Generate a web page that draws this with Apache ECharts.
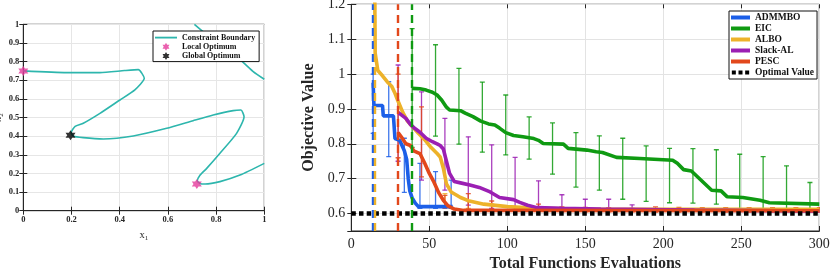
<!DOCTYPE html>
<html><head><meta charset="utf-8">
<script src="https://cdn.jsdelivr.net/npm/echarts@6.0.0/dist/echarts.min.js"></script>
<style>html,body{margin:0;padding:0;background:#fff}#c{width:838px;height:272px}</style>
</head><body><div id="c"></div>
<script>
// ---------- Left panel data ----------
const boundaryA = [[0,0.75],[0.18,0.741],[0.318,0.741],[0.42,0.752],[0.477,0.757],[0.502,0.710],[0.463,0.648],[0.401,0.594],[0.318,0.522],[0.249,0.469],[0.215,0.452],[0.199,0.42],[0.207,0.401],[0.249,0.392],[0.332,0.385],[0.456,0.401],[0.595,0.442],[0.705,0.483],[0.788,0.513],[0.871,0.537],[0.903,0.540],[0.916,0.504],[0.885,0.415],[0.816,0.308],[0.761,0.227],[0.733,0.190],[0.722,0.160],[0.735,0.145],[0.754,0.143],[0.816,0.156],[0.899,0.191],[1,0.254]];
const boundaryB = [[0.71,1.0],[0.788,0.916],[0.871,0.844],[0.954,0.746],[1,0.705]];
const localOpt = [[0,0.75],[0.72,0.143]];
const globalOpt = [[0.196,0.405]];

// ---------- Right panel data ----------
const admmbo = [[14,0.975],[14.5,0.91],[20,0.91],[20.5,0.88],[27,0.88],[28,0.815],[31,0.81],[32,0.80],[34,0.78],[35.5,0.755],[36.5,0.70],[37.5,0.665],[39,0.645],[41,0.63],[43,0.62],[65,0.62]];
const eic = [[39,0.959],[44,0.958],[48,0.954],[52,0.948],[55,0.94],[58,0.925],[61,0.905],[63,0.897],[70,0.895],[73,0.888],[78,0.878],[83,0.865],[88,0.857],[92,0.854],[95,0.845],[99,0.832],[104,0.824],[110,0.820],[117,0.815],[120,0.81],[123,0.801],[136,0.799],[139,0.787],[151,0.782],[157,0.777],[161,0.775],[170,0.761],[185,0.758],[206,0.753],[209,0.744],[213,0.726],[218,0.722],[231,0.667],[237,0.665],[241,0.648],[251,0.646],[262,0.638],[268,0.631],[300,0.627]];
const albo = [[15,1.25],[15.3,1.06],[17,1.01],[20,0.995],[23,0.978],[26,0.964],[28,0.945],[30,0.922],[33,0.89],[36,0.865],[39,0.85],[43,0.83],[47,0.812],[51,0.79],[55,0.772],[57,0.762],[59,0.73],[61,0.685],[64,0.662],[70,0.646],[75,0.637],[85,0.627],[100,0.62],[120,0.615],[150,0.613],[300,0.612]];
const slackAL = [[30,0.89],[35,0.873],[38,0.855],[41,0.843],[44,0.833],[48,0.816],[52,0.806],[55,0.800],[57,0.795],[59,0.785],[61,0.75],[63,0.715],[66,0.692],[70,0.688],[76,0.682],[82,0.675],[89,0.662],[95,0.646],[104,0.64],[108,0.632],[113,0.624],[119,0.617],[135,0.615],[160,0.613],[220,0.61],[300,0.607]];
const pesc = [[30,0.832],[32,0.82],[35,0.80],[38,0.795],[40,0.78],[44,0.772],[47,0.745],[50,0.715],[53,0.69],[56,0.66],[59,0.638],[62,0.622],[66,0.613],[72,0.609],[300,0.608]];
const optimalValue = [[0,0.6],[300,0.6]];
// error bars: [x, low, high]
const admmboErr = [[14,0.83,1.0],[24,0.763,0.978],[34,0.661,0.816],[44,0.615,0.744],[54,0.615,0.72],[64,0.615,0.696]];
const eicErr = [[39,0.79,1.13],[54,0.822,1.084],[69,0.799,1.016],[84,0.776,0.977],[99,0.768,0.94],[114,0.756,0.877],[129,0.713,0.86],[144,0.676,0.832],[159,0.667,0.823],[174,0.641,0.816],[189,0.635,0.794],[204,0.631,0.787],[219,0.630,0.786],[234,0.627,0.783],[249,0.61,0.770],[264,0.61,0.763],[279,0.61,0.737],[294,0.61,0.689]];
const alboErr = [[60,0.62,0.657],[75,0.615,0.636],[90,0.61,0.627],[105,0.61,0.62]];
const slackErr = [[30,0.75,1.026],[45,0.696,0.949],[60,0.667,0.873],[75,0.624,0.82],[90,0.615,0.797],[105,0.612,0.761],[120,0.61,0.694],[135,0.61,0.654],[150,0.609,0.641],[165,0.609,0.641],[180,0.608,0.625]];
const pescErr = [[30,0.76,1.0],[45,0.705,0.906],[60,0.615,0.652],[75,0.612,0.657],[90,0.608,0.636],[105,0.606,0.619],[120,0.606,0.627],[135,0.605,0.619],[150,0.605,0.618],[165,0.605,0.617],[180,0.605,0.615],[195,0.604,0.619],[210,0.604,0.618],[225,0.604,0.617],[240,0.604,0.617],[255,0.604,0.617],[270,0.604,0.617],[285,0.604,0.617],[300,0.604,0.617]];
const startLines = {ADMMBO:14, ALBO:15, PESC:30, EIC:39};

const leftXTicks = {min:0, max:1, interval:0.2};
const leftYTicks = {min:0, max:1, interval:0.1};
const rightXTicks = {min:0, max:300, interval:50};
const rightYTicks = {min:0.55, max:1.2};

const C = {ADMMBO:'#1c5fe8', EIC:'#0f9a12', ALBO:'#edb22a', 'Slack-AL':'#9b1fb3', PESC:'#e2481c', cyan:'#2db6ad', pink:'#e5399b'};
const SERIF = 'Liberation Serif';
const AX = '#262626';
const HEX = 'path://M0,-10L8.66,5L-8.66,5Z M0,10L-8.66,-5L8.66,-5Z';

function errRender(color){
  return function(params, api){
    const x = api.value(0), lo = api.value(1), hi = api.value(2);
    const a = api.coord([x, hi]), b = api.coord([x, lo]);
    const w = 2.5;
    const st = {stroke: color, lineWidth: 1.3, opacity: 0.85};
    return {type:'group', children:[
      {type:'line', shape:{x1:a[0],y1:a[1],x2:b[0],y2:b[1]}, style:st},
      {type:'line', shape:{x1:a[0]-w,y1:a[1],x2:a[0]+w,y2:a[1]}, style:st},
      {type:'line', shape:{x1:b[0]-w,y1:b[1],x2:b[0]+w,y2:b[1]}, style:st}
    ]};
  };
}
function errSeries(name, data, color){
  return {type:'custom', name: name+'-err', xAxisIndex:2, yAxisIndex:2, data:data,
    encode:{x:0, y:[1,2]}, renderItem: errRender(color), clip:true, silent:true, z:2};
}
function methodLine(name, data, extra){
  const s = {type:'line', name:name, xAxisIndex:2, yAxisIndex:2, data:data, showSymbol:false, symbol:'none',
    lineStyle:{width:3.6, color:C[name]}, itemStyle:{color:C[name]}, clip:true, silent:true, z:3, animation:false};
  if (startLines[name] !== undefined){
    s.markLine = {symbol:'none', silent:true, animation:false, label:{show:false},
      lineStyle:{type:[8,5], width:2.4, color:C[name]}, data:[{xAxis:startLines[name]}]};
  }
  return Object.assign(s, extra||{});
}
function secondaryAxis(kind, grid, pos, ticks){
  return Object.assign({type:'value', gridIndex:grid, position:pos,
    axisLine:{show:false}, axisTick:{show:true, inside:true, length:4, lineStyle:{color:AX}},
    axisLabel:{show:false}, splitLine:{show:false}}, ticks);
}

const chart = echarts.init(document.getElementById('c'), null, {renderer:'canvas'});
chart.setOption({
  animation:false,
  backgroundColor:'#fff',
  grid:[
    {left:23.3, top:24.3, width:241, height:186.4, show:true, borderColor:AX, borderWidth:1, containLabel:false, outerBoundsMode:'none'},
    {left:351.3, top:4.3, width:468, height:226.7, show:true, borderColor:AX, borderWidth:1, containLabel:false, outerBoundsMode:'none'}
  ],
  xAxis:[
    Object.assign({type:'value', gridIndex:0, position:'bottom',
      axisLine:{show:true, lineStyle:{color:AX}}, axisTick:{show:true, inside:true, length:4, lineStyle:{color:AX}},
      axisLabel:{fontFamily:SERIF, fontWeight:'bold', fontSize:8.5, color:AX, margin:5},
      splitLine:{show:true, lineStyle:{color:'#e6e6e6', width:1}},
      name:'x{s|1}', nameLocation:'middle', nameGap:14,
      nameTextStyle:{fontFamily:SERIF, fontSize:10.5, color:AX, rich:{s:{fontFamily:SERIF, fontSize:7, padding:[7,0,0,0], color:AX}}}
    }, leftXTicks),
    secondaryAxis('x', 0, 'top', leftXTicks),
    Object.assign({type:'value', gridIndex:1, position:'bottom',
      axisLine:{show:true, lineStyle:{color:AX}}, axisTick:{show:true, inside:true, length:5, lineStyle:{color:AX}},
      axisLabel:{fontFamily:SERIF, fontSize:14, color:AX, margin:6},
      splitLine:{show:true, lineStyle:{color:'#e3e3e3', width:1}},
      name:'Total Functions Evaluations', nameLocation:'middle', nameGap:24,
      nameTextStyle:{fontFamily:SERIF, fontWeight:'bold', fontSize:16, color:AX}
    }, rightXTicks),
    secondaryAxis('x', 1, 'top', rightXTicks)
  ],
  yAxis:[
    Object.assign({type:'value', gridIndex:0, position:'left',
      axisLine:{show:true, lineStyle:{color:AX}}, axisTick:{show:true, inside:true, length:4, lineStyle:{color:AX}},
      axisLabel:{fontFamily:SERIF, fontWeight:'bold', fontSize:8.5, color:AX, margin:4},
      splitLine:{show:true, lineStyle:{color:'#e6e6e6', width:1}},
      name:'x{s|2}', nameLocation:'middle', nameGap:18,
      nameTextStyle:{fontFamily:SERIF, fontSize:10.5, color:AX, rich:{s:{fontFamily:SERIF, fontSize:7, padding:[7,0,0,0], color:AX}}}
    }, leftYTicks),
    secondaryAxis('y', 0, 'right', leftYTicks),
    Object.assign({type:'value', gridIndex:1, position:'left', splitNumber:6,
      axisLine:{show:true, lineStyle:{color:AX}}, axisTick:{show:true, inside:true, length:5, lineStyle:{color:AX}},
      axisLabel:{fontFamily:SERIF, fontSize:14, color:AX, margin:6, showMinLabel:false},
      splitLine:{show:true, lineStyle:{color:'#e3e3e3', width:1}},
      name:'Objective Value', nameLocation:'middle', nameGap:20,
      nameTextStyle:{fontFamily:SERIF, fontWeight:'bold', fontSize:16, color:AX}
    }, rightYTicks),
    Object.assign(secondaryAxis('y', 1, 'right', rightYTicks), {splitNumber:6})
  ],
  legend:[
    {show:true, orient:'vertical', left:153, top:31, padding:[2,4,1,2], itemGap:0, itemWidth:22, itemHeight:8,
      backgroundColor:'#fff', borderColor:'#111', borderWidth:1, selectedMode:false,
      textStyle:{fontFamily:SERIF, fontWeight:'bold', fontSize:8, lineHeight:9.2, color:'#111'},
      data:[{name:'Constraint Boundary', icon:'path://M0,0h12v1h-12z'},
            {name:'Local Optimum', icon:HEX},
            {name:'Global Optimum', icon:HEX}]},
    {show:true, orient:'vertical', left:729, top:11, padding:[1,3,1,2], itemGap:0, itemWidth:19, itemHeight:4,
      backgroundColor:'#fff', borderColor:'#111', borderWidth:1, selectedMode:false,
      textStyle:{fontFamily:SERIF, fontWeight:'bold', fontSize:9.5, lineHeight:11, color:'#111'},
      data:[{name:'ADMMBO', icon:'rect'},{name:'EIC', icon:'rect'},{name:'ALBO', icon:'rect'},
            {name:'Slack-AL', icon:'rect'},{name:'PESC', icon:'rect'},
            {name:'Optimal Value', icon:'path://M0,0h3v3h-3z M5,0h3v3h-3z M10,0h3v3h-3z'}]}
  ],
  series:[
    {type:'line', name:'Constraint Boundary', xAxisIndex:0, yAxisIndex:0, data:boundaryA, showSymbol:false, symbol:'none',
      smooth:0.2, lineStyle:{width:1.6, color:C.cyan}, itemStyle:{color:C.cyan}, silent:true, clip:true},
    {type:'line', name:'Constraint Boundary', xAxisIndex:0, yAxisIndex:0, data:boundaryB, showSymbol:false, symbol:'none',
      smooth:0.2, lineStyle:{width:1.6, color:C.cyan}, itemStyle:{color:C.cyan}, silent:true, clip:true},
    {type:'scatter', name:'Local Optimum', xAxisIndex:0, yAxisIndex:0, data:localOpt, symbol:HEX, symbolSize:10,
      itemStyle:{color:C.pink}, silent:true, clip:false, z:5},
    {type:'scatter', name:'Global Optimum', xAxisIndex:0, yAxisIndex:0, data:globalOpt, symbol:HEX, symbolSize:10,
      itemStyle:{color:'#000'}, silent:true, clip:false, z:5},

    methodLine('ADMMBO', admmbo), errSeries('ADMMBO', admmboErr, C.ADMMBO),
    methodLine('EIC', eic), errSeries('EIC', eicErr, C.EIC),
    methodLine('ALBO', albo), errSeries('ALBO', alboErr, C.ALBO),
    methodLine('Slack-AL', slackAL), errSeries('Slack-AL', slackErr, C['Slack-AL']),
    methodLine('PESC', pesc), errSeries('PESC', pescErr, C.PESC),
    {type:'line', name:'Optimal Value', xAxisIndex:2, yAxisIndex:2, data:optimalValue, showSymbol:false, symbol:'none',
      lineStyle:{width:4.5, color:'#000', type:[4.5,3.2]}, itemStyle:{color:'#000'}, silent:true, z:4}
  ]
});
</script>
</body></html>
